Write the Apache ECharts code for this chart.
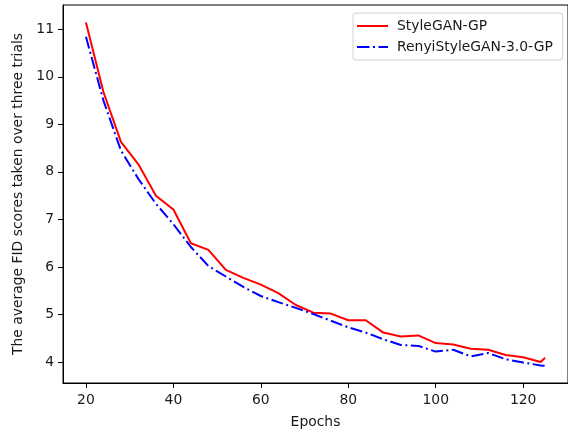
<!DOCTYPE html>
<html>
<head>
<meta charset="utf-8">
<script src="https://cdn.jsdelivr.net/npm/echarts@6/dist/echarts.min.js"></script>
<style>
  html, body { margin: 0; padding: 0; background: #fff; }
  #chart { width: 568px; height: 435px; }
</style>
</head>
<body>
<div id="chart"></div>
<script>
const epochs = [20, 24, 28, 32, 36, 40, 44, 48, 52, 56, 60, 64, 68, 72, 76, 80, 84, 88, 92, 96, 100, 104, 108, 112, 116, 120, 124, 125];
const styleganGP = [11.14, 9.68, 8.63, 8.16, 7.50, 7.21, 6.50, 6.36, 5.94, 5.77, 5.63, 5.45, 5.20, 5.04, 5.02, 4.88, 4.88, 4.62, 4.54, 4.56, 4.40, 4.37, 4.28, 4.26, 4.15, 4.10, 4.00, 4.09];
const renyiGP = [10.84, 9.50, 8.45, 7.85, 7.33, 6.90, 6.42, 6.02, 5.80, 5.58, 5.39, 5.26, 5.14, 5.01, 4.87, 4.73, 4.62, 4.48, 4.36, 4.34, 4.22, 4.26, 4.12, 4.19, 4.06, 3.99, 3.93, 3.92];
const xTicks = [20, 40, 60, 80, 100, 120];
const yTicks = [4, 5, 6, 7, 8, 9, 10, 11];
const seriesNames = ['StyleGAN-GP', 'RenyiStyleGAN-3.0-GP'];

const FONT = 'DejaVu Sans';
const FS = 13.9;
const chart = echarts.init(document.getElementById('chart'), null, { renderer: 'canvas' });
const toPairs = (vals) => epochs.map((e, i) => [e, vals[i]]);

// legend sample glyphs (solid line, dash-dot line), 31 x 2
const solidIcon = 'path://M0,0 L31,0 L31,2 L0,2 Z';
const dashDotIcon = 'path://M0,0 L12.5,0 L12.5,2 L0,2 Z M16,0 L18,0 L18,2 L16,2 Z M21.5,0 L31,0 L31,2 L21.5,2 Z';

chart.setOption({
  animation: false,
  backgroundColor: '#ffffff',
  grid: {
    left: 63, top: 5, width: 505, height: 378,
    show: true, borderColor: '#000', borderWidth: 1, backgroundColor: 'transparent'
  },
  legend: {
    orient: 'vertical',
    left: 353, top: 13,
    padding: [6, 10, 6, 4],
    itemGap: 7,
    itemWidth: 31, itemHeight: 2,
    backgroundColor: 'rgba(255,255,255,0.8)',
    borderColor: '#d0d0d0', borderWidth: 1, borderRadius: 3,
    textStyle: { fontFamily: FONT, fontSize: FS, color: '#1a1a1a', padding: [0, 0, 0, 4] },
    data: [
      { name: seriesNames[0], icon: solidIcon },
      { name: seriesNames[1], icon: dashDotIcon }
    ]
  },
  xAxis: {
    type: 'value', min: 14.75, max: 130.25,
    name: 'Epochs', nameLocation: 'middle', nameGap: 32,
    nameTextStyle: { fontFamily: FONT, fontSize: FS, color: '#1a1a1a' },
    axisLine: { show: true, lineStyle: { color: '#000', width: 1 } },
    axisTick: { show: true, length: 5, customValues: xTicks, lineStyle: { color: '#000', width: 1 } },
    axisLabel: { customValues: xTicks, margin: 10, fontFamily: FONT, fontSize: FS, color: '#1a1a1a' },
    splitLine: { show: false }
  },
  yAxis: {
    type: 'value', min: 3.56, max: 11.51,
    name: 'The average FID scores taken over three trials', nameLocation: 'middle', nameGap: 30,
    nameRotate: 90,
    nameTextStyle: { fontFamily: FONT, fontSize: FS, color: '#1a1a1a' },
    axisLine: { show: true, lineStyle: { color: '#000', width: 1 } },
    axisTick: { show: true, length: 5, customValues: yTicks, lineStyle: { color: '#000', width: 1 } },
    axisLabel: { customValues: yTicks, margin: 9, fontFamily: FONT, fontSize: FS, color: '#1a1a1a' },
    splitLine: { show: false }
  },
  series: [
    {
      name: seriesNames[0], type: 'line', data: toPairs(styleganGP),
      symbol: 'none', showSymbol: false,
      lineStyle: { color: '#ff0000', width: 2 },
      itemStyle: { color: '#ff0000' }
    },
    {
      name: seriesNames[1], type: 'line', data: toPairs(renyiGP),
      symbol: 'none', showSymbol: false,
      lineStyle: { color: '#0000ff', width: 2, type: [12, 3.5, 2, 3.5] },
      itemStyle: { color: '#0000ff' }
    }
  ]
});
</script>
</body>
</html>
